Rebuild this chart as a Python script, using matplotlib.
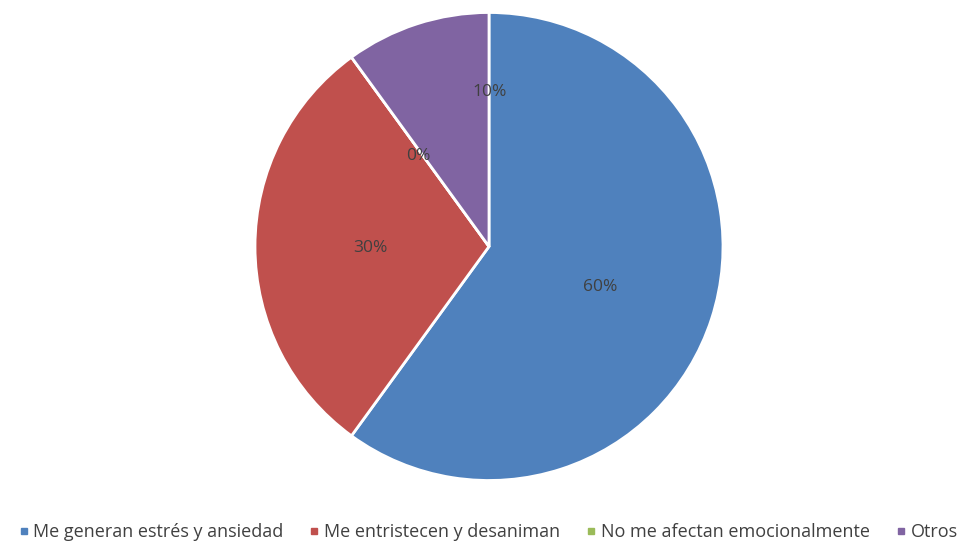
import matplotlib
matplotlib.use("Agg")
import matplotlib.pyplot as plt
from matplotlib.lines import Line2D

categories = ["Me generan estrés y ansiedad", "Me entristecen y desaniman",
              "No me afectan emocionalmente", "Otros"]
values = [60, 30, 0, 10]
colors = ["#4F81BD", "#C0504D", "#9BBB59", "#8064A2"]
label_pos = [(0.476, -0.172), (-0.506, -0.008), (-0.30, 0.385), (0.004, 0.66)]

plt.rcParams['font.family'] = ['Open Sans', 'DejaVu Sans']

W, H = 976, 542
fig = plt.figure(figsize=(W/100, H/100), dpi=100)
cx, cy, r = 489, 246.5, 234
ax = fig.add_axes([(cx - r)/W, (H - cy - r)/H, 2*r/W, 2*r/H])
wedges, texts, autotexts = ax.pie(values, colors=colors, startangle=90, counterclock=False,
                                  autopct=lambda p: f"{p:.0f}%",
                                  wedgeprops=dict(edgecolor="white", linewidth=2),
                                  textprops=dict(color="#404040", fontsize=12.5))
for t, pos in zip(autotexts, label_pos):
    t.set_position(pos)
ax.set_xlim(-1.0, 1.0)
ax.set_ylim(-1.0, 1.0)
ax.set_aspect('equal')
ax.axis('off')

handles = [Line2D([0], [0], marker='s', linestyle='none', markersize=5,
                  markerfacecolor=c, markeredgecolor=c) for c in colors]
fig.legend(handles, categories, loc='center', bbox_to_anchor=(0.5, 1 - 532/H),
           ncol=4, frameon=False, fontsize=13.0, handletextpad=0.25, handlelength=0.6,
           columnspacing=1.4, labelcolor="#404040", borderpad=0, borderaxespad=0)
fig.savefig("out.png", dpi=100, facecolor="white")
